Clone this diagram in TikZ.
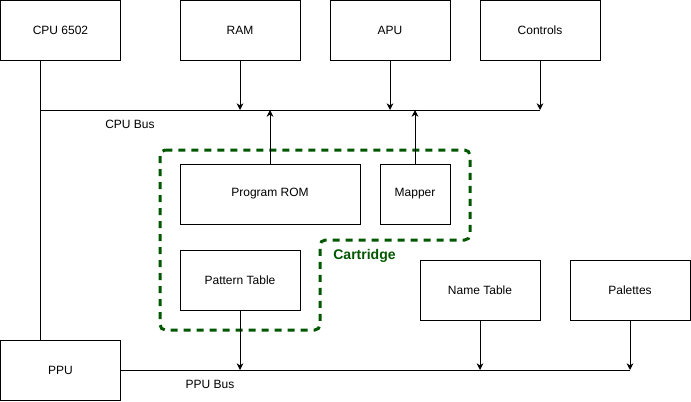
\documentclass[tikz,border=0pt]{standalone}
\usepackage{fontspec}
\setmainfont{Liberation Sans}
\usepackage{tikz}
\usetikzlibrary{positioning,calc,arrows.meta}
\tikzset{>={Stealth[length=5pt,width=5pt,inset=1.5pt]}}
\definecolor{cartgreen}{HTML}{005700}

\begin{document}
\begin{tikzpicture}[%
                    x=0.75pt,y=-0.75pt,
                    font=\fontsize{9pt}{11pt}\selectfont,
                    block/.style={draw,line width=0.75pt,inner sep=0,minimum width=90pt,minimum height=45pt},
                    wire/.style={line width=0.75pt},
                    buslabel/.style={inner sep=0},
                    cart/.style={draw=cartgreen,line width=2.25pt,dash pattern=on 5.25pt off 4.5pt,rounded corners=4pt}
        ]
\useasboundingbox (0,0) rectangle (691,401);
% cartridge outline
\draw[cart] (160,150) -- (470,150) -- (470,240) -- (320,240) -- (320,330) -- (160,330) -- cycle;
\node[buslabel,text=cartgreen,font=\fontsize{10.5pt}{12pt}\selectfont\bfseries] (cartlbl) at (364.5,256) {Cartridge};
% top row
\node[block] (cpu) at (60.5,30.5) {CPU 6502};
\node[block] (ram) at (240,30.5) {RAM};
\node[block] (apu) at (390,30.5) {APU};
\node[block] (ctrl) at (540,30.5) {Controls};
% cartridge contents
\node[block,minimum width=135pt] (rom) at (270,194) {Program ROM};
\node[block,minimum width=52.5pt] (mapper) at (415,194) {Mapper};
\node[block] (pattern) at (240,280) {Pattern Table};
% ppu side
\node[block] (names) at (480,290) {Name Table};
\node[block] (pal) at (630,290) {Palettes};
\node[block] (ppu) at (60.5,370) {PPU};
% buses
\coordinate (cpubusL) at (40,110);
\coordinate (cpubusR) at (540,110);
\coordinate (ppubusR) at (630,370);
\draw[wire] (cpubusL) -- (cpubusR);
\draw[wire] (cpubusL |- cpu.south) -- (cpubusL |- ppu.north);
\draw[wire] (ppu.east) -- (ppubusR);
\node[buslabel] (cpubuslbl) at (130,124) {CPU Bus};
\node[buslabel] (ppubuslbl) at (210,384) {PPU Bus};
\path[wire,->]
    (ram.south) edge (ram.south |- cpubusL)
    (apu.south) edge (apu.south |- cpubusL)
    (ctrl.south) edge (cpubusR)
    (rom.north) edge (rom.north |- cpubusL)
    (mapper.north) edge (mapper.north |- cpubusL)
    (pattern.south) edge (pattern.south |- ppubusR)
    (names.south) edge (names.south |- ppubusR)
    (pal.south) edge (ppubusR);
\end{tikzpicture}
\end{document}
